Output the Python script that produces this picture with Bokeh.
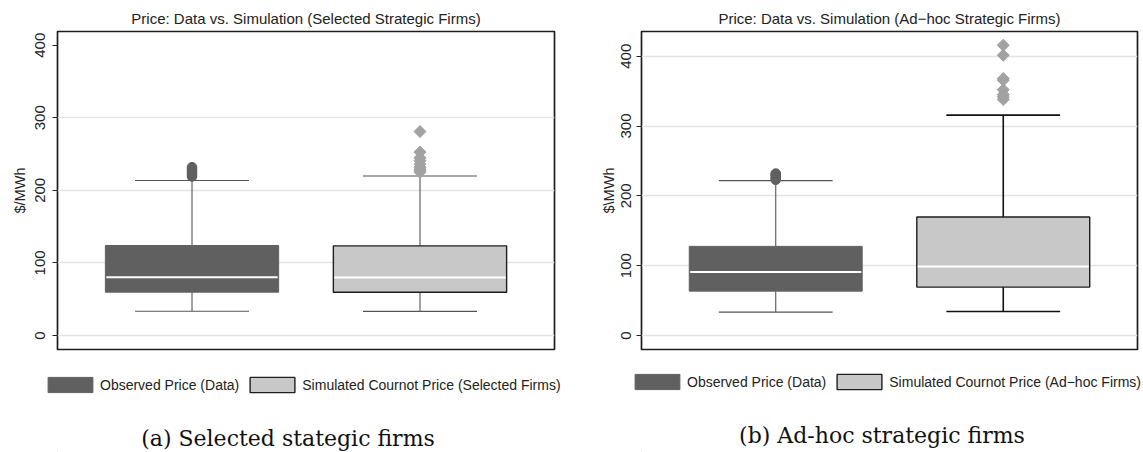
from bokeh.plotting import figure
from bokeh.models import Range1d, FixedTicker, Legend, LegendItem, Label
from bokeh.layouts import row, column
from bokeh.embed import file_html
from bokeh.resources import INLINE

# ---------------- data ----------------
box_pos = [1, 2]

a_title = "Price: Data vs. Simulation (Selected Strategic Firms)"
a_ylabel = "$/MWh"
a_names = ["Observed Price (Data)", "Simulated Cournot Price (Selected Firms)"]
a_caption = "(a) Selected stategic firms"
a_q1 = [59.7, 59.5]
a_med = [80.4, 80.0]
a_q3 = [124.0, 123.5]
a_lo = [33.5, 33.3]
a_hi = [213.5, 219.7]
a_out_data = [219.0, 221.0, 223.0, 225.0, 227.5, 230.0, 232.0]
a_out_sim = [225.0, 227.0, 229.0, 232.0, 236.0, 241.0, 245.0, 252.8, 281.0]
a_grid = [0, 100, 200, 300]

b_title = "Price: Data vs. Simulation (Ad\u2212hoc Strategic Firms)"
b_ylabel = "$\\MWh"
b_names = ["Observed Price (Data)", "Simulated Cournot Price (Ad\u2212hoc Firms)"]
b_caption = "(b) Ad-hoc strategic firms"
b_q1 = [63.5, 69.3]
b_med = [90.8, 98.9]
b_q3 = [127.6, 169.6]
b_lo = [33.4, 34.4]
b_hi = [221.8, 315.6]
b_out_data = [223.0, 225.0, 227.0, 229.0, 231.0, 232.0]
b_out_sim = [338.0, 341.7, 345.0, 352.0, 365.6, 368.0, 401.4, 415.8]
b_grid = [0, 100, 200, 300, 400]

y_ticks = [0, 100, 200, 300, 400]

# ---------------- style ----------------
SANS = "Liberation Sans"
SERIF = "DejaVu Serif"
DARK = "#606060"
LIGHT = "#c8c8c8"
FH = 318
TOP = 31
BOT = 4
TOTAL_H = 452
FILLS = [DARK, LIGHT]
LINES = [DARK, "#1e1e1e"]
LWID = [1, 1.4]


def panel(title, ylabel, q1, med, q3, lo, hi, outs, grid, yr,
          fw, bl, br, whisk2_color, whisk2_w, ylab_standoff, tick_standoff):
    p = figure(output_backend="svg", toolbar_location=None,
               frame_width=fw, frame_height=FH,
               min_border_left=bl, min_border_right=br,
               min_border_top=TOP, min_border_bottom=BOT,
               x_range=Range1d(0.41, 2.59), y_range=Range1d(*yr),
               x_axis_location=None,
               background_fill_color="white", border_fill_color="white")
    p.title.text = title
    p.title.align = "center"
    p.title.text_font = SANS
    p.title.text_font_style = "normal"
    p.title.text_font_size = "15px"
    p.title.text_color = "#222222"
    p.outline_line_color = "#1e1e1e"
    p.outline_line_width = 1.7
    p.xgrid.visible = False
    p.ygrid.ticker = FixedTicker(ticks=grid)
    p.ygrid.grid_line_color = "#e4e4e4"
    p.ygrid.grid_line_width = 1.5
    ax = p.yaxis[0]
    ax.ticker = FixedTicker(ticks=y_ticks)
    ax.axis_line_color = None
    ax.major_tick_out = 5
    ax.major_tick_in = 0
    ax.minor_tick_line_color = None
    ax.major_tick_line_color = "#222222"
    ax.major_label_orientation = "vertical"
    ax.major_label_text_font = SANS
    ax.major_label_text_font_size = "15px"
    ax.major_label_text_color = "#222222"
    ax.major_label_standoff = tick_standoff
    ax.axis_label = ylabel
    ax.axis_label_text_font = SANS
    ax.axis_label_text_font_style = "normal"
    ax.axis_label_text_font_size = "14.5px"
    ax.axis_label_text_color = "#222222"
    ax.axis_label_standoff = ylab_standoff

    bw = 0.76
    cw = 0.5
    wcol = ["#555555", whisk2_color]
    wwid = [1.1, whisk2_w]
    for i, x in enumerate(box_pos):
        p.segment(x0=[x, x], y0=[q3[i], q1[i]], x1=[x, x], y1=[hi[i], lo[i]],
                  line_color=wcol[i], line_width=wwid[i])
        p.segment(x0=[x - cw / 2] * 2, y0=[hi[i], lo[i]], x1=[x + cw / 2] * 2,
                  y1=[hi[i], lo[i]], line_color=wcol[i], line_width=wwid[i])
        p.vbar(x=[x], width=bw, bottom=[q1[i]], top=[q3[i]],
               fill_color=FILLS[i], line_color=LINES[i], line_width=LWID[i])
        p.segment(x0=[x - bw / 2 + 0.004], y0=[med[i]], x1=[x + bw / 2 - 0.004],
                  y1=[med[i]], line_color="white", line_width=2)
    p.scatter(x=[box_pos[0]] * len(outs[0]), y=outs[0], marker="circle", size=9.5,
              fill_color=DARK, line_color=DARK)
    p.scatter(x=[box_pos[1]] * len(outs[1]), y=outs[1], marker="square", size=8.5,
              angle=0.7854, fill_color="#a2a2a2", line_color="#a2a2a2")
    return p


def footer(width, names, caption, leg_x, leg_y, cap_x, cap_y):
    h = TOTAL_H - (TOP + FH + BOT)
    f = figure(output_backend="svg", toolbar_location=None,
               frame_width=width, frame_height=h,
               min_border=0, min_border_left=0, min_border_right=0,
               min_border_top=0, min_border_bottom=0,
               x_range=Range1d(0, 1), y_range=Range1d(0, 1),
               x_axis_location=None, y_axis_location=None,
               background_fill_color="white", border_fill_color="white")
    f.outline_line_color = None
    f.grid.visible = False
    swatches = []
    for i in range(2):
        # legend key only: a zero-height bar placed outside the visible range
        swatches.append(f.vbar(x=[-5], width=0.1, top=[0], bottom=[0],
                               fill_color=FILLS[i], line_color=LINES[i], line_width=LWID[i]))
    legend = Legend(items=[LegendItem(label=names[i], renderers=[swatches[i]]) for i in range(2)],
                    location=(leg_x, leg_y), orientation="horizontal",
                    glyph_width=56, glyph_height=19, label_standoff=2, spacing=5,
                    padding=0, margin=0, border_line_alpha=0, background_fill_alpha=0,
                    label_text_font=SANS, label_text_font_size="14px",
                    label_text_color="#222222", label_height=15)
    f.add_layout(legend)
    f.add_layout(Label(x=cap_x, y=cap_y, x_units="screen", y_units="screen",
                       text=caption, text_align="center", text_baseline="alphabetic",
                       text_font=SERIF, text_font_size="22px", text_color="#111111"))
    return f


W1 = 590
W2 = 553
p1 = panel(a_title, a_ylabel, a_q1, a_med, a_q3, a_lo, a_hi,
           [a_out_data, a_out_sim], a_grid, (-19.3, 418.9),
           fw=497, bl=57, br=W1 - 57 - 497,
           whisk2_color="#555555", whisk2_w=1.1, ylab_standoff=5, tick_standoff=7)
p2 = panel(b_title, b_ylabel, b_q1, b_med, b_q3, b_lo, b_hi,
           [b_out_data, b_out_sim], b_grid, (-20.1, 435.4),
           fw=496, bl=51, br=W2 - 51 - 496,
           whisk2_color="#111111", whisk2_w=1.6, ylab_standoff=2, tick_standoff=5)
f1 = footer(W1, a_names, a_caption, leg_x=42, leg_y=58, cap_x=230.5, cap_y=14)
f2 = footer(W2, b_names, b_caption, leg_x=39, leg_y=61, cap_x=240.5, cap_y=17)

layout = row(column(p1, f1, spacing=0), column(p2, f2, spacing=0), spacing=0)
open("out.html", "w").write(file_html(layout, INLINE))
